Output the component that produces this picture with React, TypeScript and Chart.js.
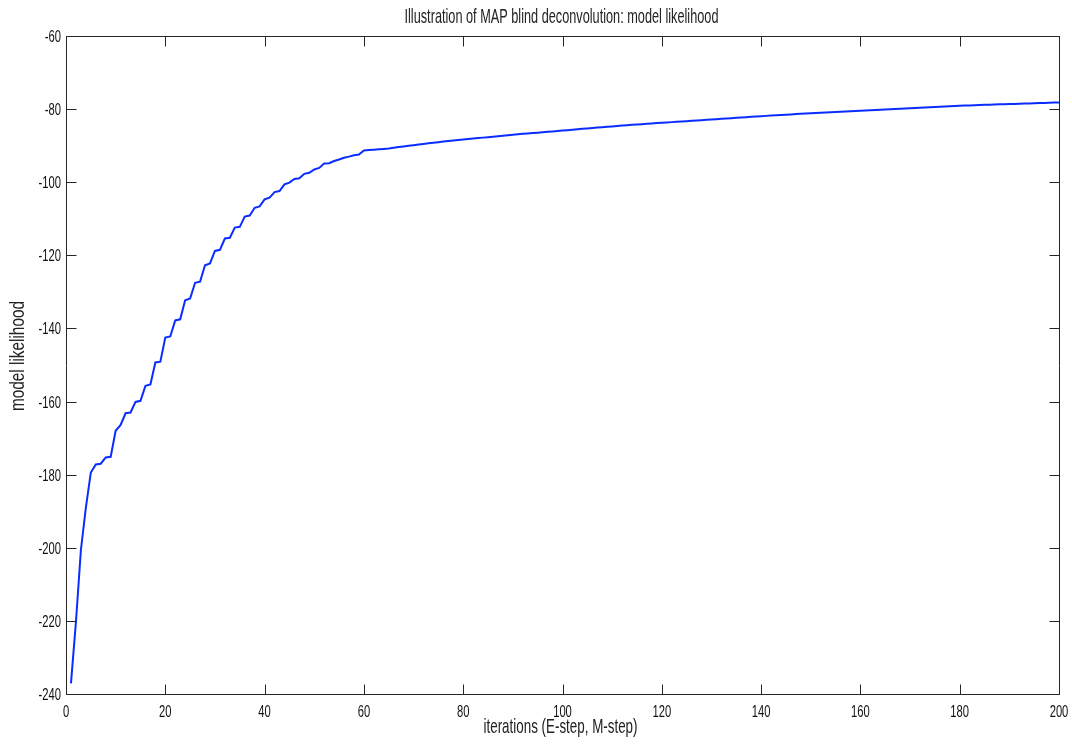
import React, { useEffect, useRef } from "react";
import { Chart, registerables } from "chart.js";

Chart.register(...registerables);

const TITLE = "Illustration of MAP blind deconvolution: model likelihood";
const X_LABEL = "iterations (E-step, M-step)";
const Y_LABEL = "model likelihood";

const X_TICKS = [0, 20, 40, 60, 80, 100, 120, 140, 160, 180, 200];
const Y_TICKS = [-240, -220, -200, -180, -160, -140, -120, -100, -80, -60];

const ITERATIONS = Array.from({ length: 200 }, (_, k) => k + 1);

const LIKELIHOOD = [
  -237.1, -220.3, -200.6, -189.0, -179.4, -177.2, -177.0, -175.3, -175.1, -168.0,
  -166.4, -163.2, -163.0, -160.1, -159.8, -155.7, -155.3, -149.3, -149.1, -142.5,
  -142.2, -137.8, -137.5, -132.3, -131.8, -127.5, -127.2, -122.7, -122.2, -118.8,
  -118.5, -115.4, -115.2, -112.4, -112.2, -109.4, -109.1, -107.0, -106.6, -104.7,
  -104.2, -102.7, -102.4, -100.6, -100.1, -99.1, -98.9, -97.7, -97.4, -96.5,
  -96.1, -94.9, -94.8, -94.2, -93.8, -93.3, -93.0, -92.6, -92.4, -91.3,
  -91.2, -91.1, -91.0, -90.88, -90.75, -90.57, -90.39, -90.21, -90.04, -89.87,
  -89.7, -89.53, -89.37, -89.21, -89.05, -88.89, -88.73, -88.58, -88.45, -88.32,
  -88.19, -88.06, -87.93, -87.8, -87.67, -87.54, -87.41, -87.28, -87.15, -87.02,
  -86.89, -86.77, -86.66, -86.55, -86.44, -86.33, -86.22, -86.11, -85.99, -85.87,
  -85.76, -85.64, -85.52, -85.4, -85.29, -85.17, -85.06, -84.95, -84.84, -84.73,
  -84.62, -84.51, -84.41, -84.31, -84.21, -84.11, -84.01, -83.92, -83.83, -83.74,
  -83.65, -83.56, -83.47, -83.38, -83.29, -83.2, -83.11, -83.02, -82.93, -82.84,
  -82.75, -82.66, -82.57, -82.48, -82.39, -82.3, -82.21, -82.12, -82.03, -81.94,
  -81.85, -81.77, -81.69, -81.61, -81.53, -81.45, -81.37, -81.29, -81.22, -81.15,
  -81.08, -81.01, -80.94, -80.87, -80.8, -80.73, -80.66, -80.59, -80.52, -80.45,
  -80.38, -80.31, -80.24, -80.17, -80.1, -80.03, -79.96, -79.89, -79.82, -79.75,
  -79.68, -79.61, -79.54, -79.47, -79.4, -79.34, -79.28, -79.22, -79.16, -79.1,
  -79.04, -78.99, -78.94, -78.89, -78.84, -78.79, -78.74, -78.69, -78.65, -78.61,
  -78.57, -78.53, -78.49, -78.45, -78.41, -78.36, -78.31, -78.26, -78.21, -78.16,
];

const FONT_FAMILY = "'Liberation Sans', Arial, 'DejaVu Sans', sans-serif";

function drawText(
  ctx: CanvasRenderingContext2D,
  text: string,
  x: number,
  y: number,
  size: number,
  opts: { width?: number; condense?: number; align?: CanvasTextAlign; rotate?: number; baseline?: CanvasTextBaseline }
) {
  ctx.save();
  ctx.font = `${size}px ${FONT_FAMILY}`;
  const measured = ctx.measureText(text).width;
  const sx = opts.width ? opts.width / measured : opts.condense ?? 1;
  ctx.translate(x, y);
  if (opts.rotate) ctx.rotate(opts.rotate);
  ctx.scale(sx, 1);
  ctx.textAlign = opts.align ?? "center";
  ctx.textBaseline = opts.baseline ?? "alphabetic";
  ctx.fillText(text, 0, 0);
  ctx.restore();
}

const matlabAxes = {
  id: "matlabAxes",
  afterDraw(chart: any) {
    const { ctx, chartArea: a, scales } = chart;
    const xs = scales.x;
    const ys = scales.y;
    const TL = 10;
    ctx.save();
    ctx.strokeStyle = "#262626";
    ctx.lineWidth = 1;
    const L = Math.round(a.left) + 0.5;
    const R = Math.round(a.right) + 0.5;
    const T = Math.round(a.top) + 0.5;
    const B = Math.round(a.bottom) + 0.5;
    ctx.beginPath();
    ctx.rect(L, T, R - L, B - T);
    ctx.stroke();
    ctx.beginPath();
    X_TICKS.forEach((v) => {
      const px = Math.round(xs.getPixelForValue(v)) + 0.5;
      ctx.moveTo(px, B);
      ctx.lineTo(px, B - TL);
      ctx.moveTo(px, T);
      ctx.lineTo(px, T + TL);
    });
    Y_TICKS.forEach((v) => {
      const py = Math.round(ys.getPixelForValue(v)) + 0.5;
      ctx.moveTo(L, py);
      ctx.lineTo(L + TL, py);
      ctx.moveTo(R, py);
      ctx.lineTo(R - TL, py);
    });
    ctx.stroke();

    ctx.fillStyle = "#111";
    X_TICKS.forEach((v) => {
      const px = xs.getPixelForValue(v);
      drawText(ctx, String(v), px, a.bottom + 23, 16.5, { condense: 0.68, align: "center" });
    });
    Y_TICKS.forEach((v) => {
      const py = ys.getPixelForValue(v);
      drawText(ctx, String(v), a.left - 5, py + 6, 16.5, { condense: 0.68, align: "right" });
    });

    ctx.fillStyle = "#222";
    const cx = (a.left + a.right) / 2;
    drawText(ctx, TITLE, cx - 1, 23, 21, { width: 314, align: "center" });
    drawText(ctx, X_LABEL, cx - 2, 733, 21, { width: 154, align: "center" });
    drawText(ctx, Y_LABEL, 23.5, 356, 21, { width: 110, align: "center", rotate: -Math.PI / 2 });
    ctx.restore();
  },
};

export default function App() {
  const canvasRef = useRef<HTMLCanvasElement | null>(null);

  useEffect(() => {
    const canvas = canvasRef.current;
    if (!canvas) return;
    const chart = new Chart(canvas, {
      type: "line",
      data: {
        datasets: [
          {
            data: ITERATIONS.map((it, k) => ({ x: it, y: LIKELIHOOD[k] })),
            borderColor: "rgb(10,45,255)",
            borderWidth: 2,
            pointRadius: 0,
            tension: 0,
            fill: false,
          },
        ],
      },
      options: {
        animation: false,
        responsive: false,
        devicePixelRatio: 1,
        events: [],
        layout: { padding: { left: 66, right: 13, top: 36, bottom: 54 } },
        plugins: {
          legend: { display: false },
          title: { display: false },
          tooltip: { enabled: false },
        },
        scales: {
          x: { type: "linear", min: 0, max: 200, display: false },
          y: { type: "linear", min: -240, max: -60, display: false },
        },
      },
      plugins: [matlabAxes],
    });
    return () => chart.destroy();
  }, []);

  return (
    <div style={{ position: "absolute", left: 0, top: 0, width: 1072, height: 748, background: "#fff" }}>
      <canvas ref={canvasRef} width={1072} height={748} style={{ width: 1072, height: 748, display: "block" }} />
    </div>
  );
}
